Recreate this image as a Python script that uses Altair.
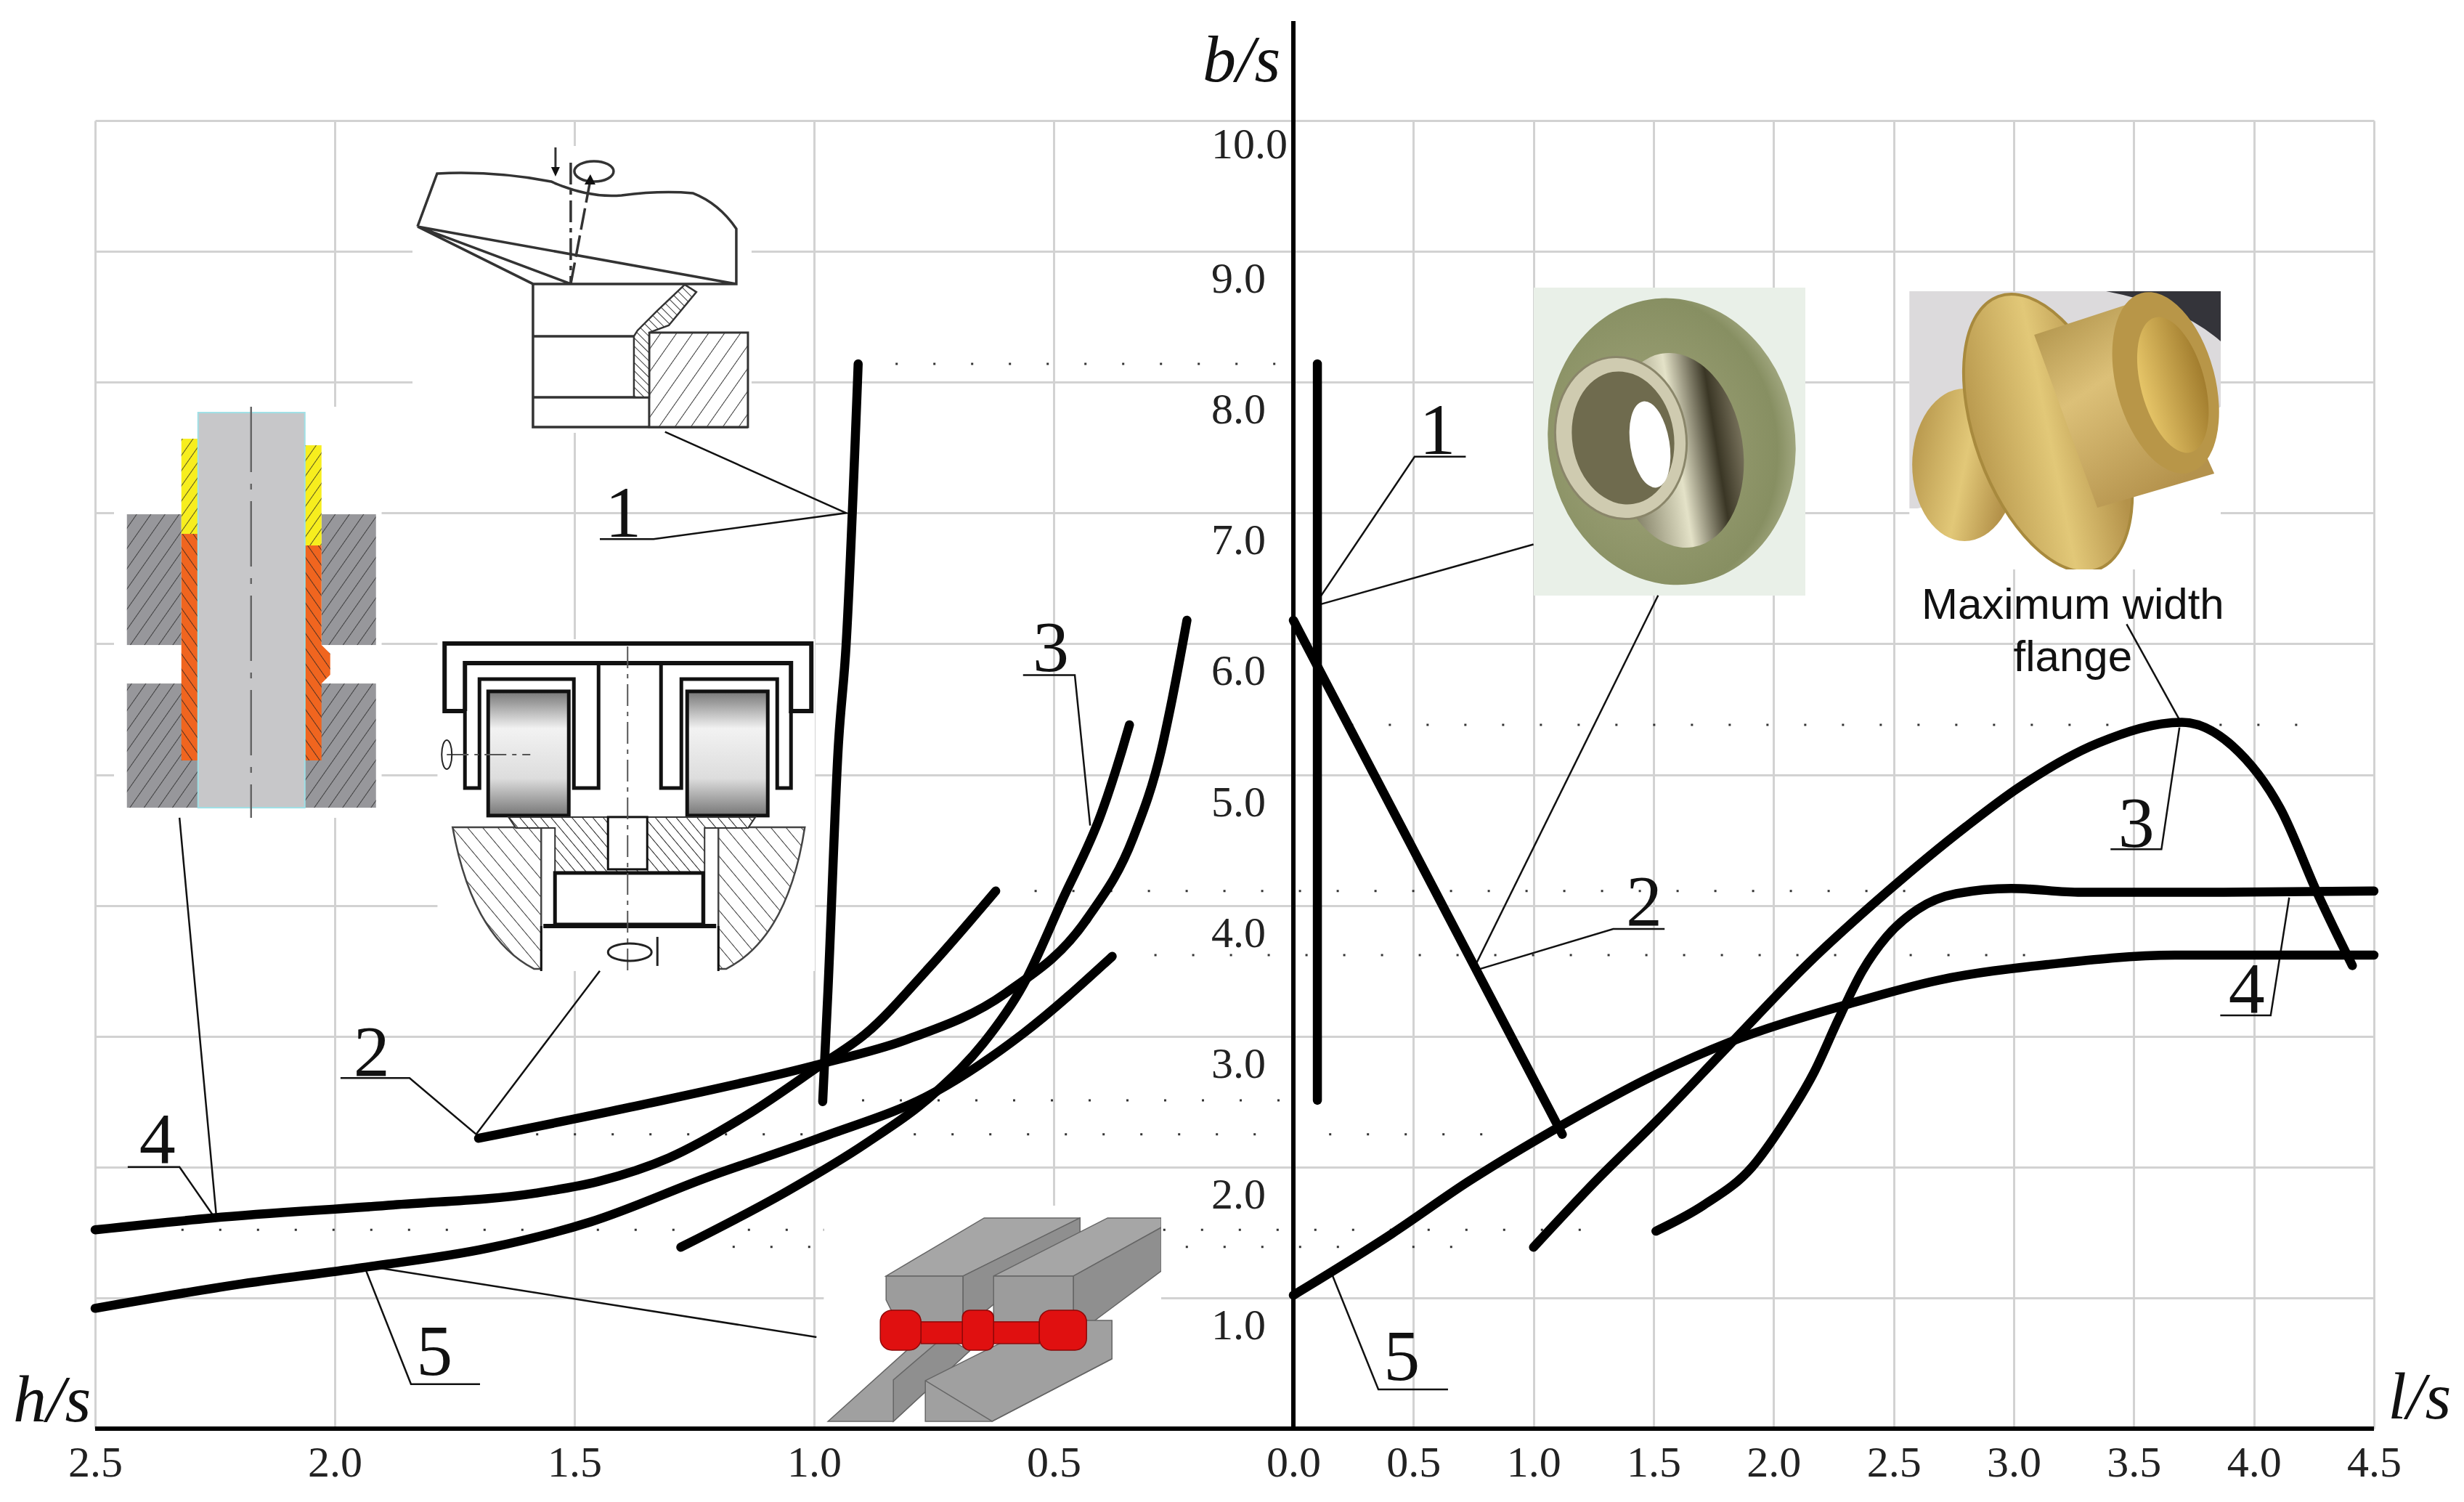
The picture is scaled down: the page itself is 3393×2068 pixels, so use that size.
import base64

import altair as alt
import pandas as pd

# curves, signed x: negative is the h/s side, positive the l/s side
CURVES = {
    "1L": ([-0.982, -0.971, -0.950, -0.933, -0.908], [2.50, 3.35, 5.18, 6.00, 8.14]),
    "2L": (
        [-1.70, -1.385, -0.99, -0.81, -0.60, -0.43, -0.334, -0.276, -0.256, -0.222],
        [2.22, 2.456, 2.785, 2.97, 3.33, 3.90, 4.52, 5.18, 5.52, 6.18],
    ),
    "3L": (
        [-1.278, -1.056, -0.892, -0.744, -0.646, -0.564, -0.481, -0.40, -0.358, -0.342],
        [1.387, 1.815, 2.18, 2.58, 2.95, 3.39, 4.05, 4.71, 5.18, 5.38],
    ),
    "4L": (
        [-2.5, -2.256, -1.878, -1.582, -1.45, -1.303, -1.139, -0.99, -0.892, -0.761, -0.621],
        [1.52, 1.61, 1.71, 1.80, 1.89, 2.07, 2.40, 2.77, 3.02, 3.52, 4.11],
    ),
    "5L": (
        [-2.5, -2.206, -1.944, -1.68, -1.467, -1.22, -0.99, -0.744, -0.564, -0.378],
        [0.92, 1.10, 1.23, 1.38, 1.58, 1.925, 2.22, 2.58, 3.02, 3.61],
    ),
    "1R": ([0.10, 0.10], [8.14, 2.51]),
    "2R": ([0.0, 1.12], [6.18, 2.25]),
    "3R": (
        [1.0, 1.257, 1.519, 1.814, 2.14, 2.47, 2.80, 3.02, 3.35, 3.70, 3.91, 4.11, 4.27, 4.41],
        [1.387, 1.889, 2.364, 2.93, 3.55, 4.10, 4.60, 4.90, 5.24, 5.40, 5.22, 4.74, 4.07, 3.54],
    ),
    "4R": (
        [1.51, 1.71, 1.91, 2.04, 2.17, 2.27, 2.37, 2.47, 2.60, 2.76, 2.99, 3.28, 3.84, 4.5],
        [1.51, 1.71, 2.00, 2.33, 2.73, 3.13, 3.50, 3.76, 3.97, 4.09, 4.13, 4.10, 4.10, 4.11],
    ),
    "5R": (
        [0.0, 0.41, 0.73, 1.09, 1.49, 1.81, 2.30, 2.69, 3.15, 3.67, 4.5],
        [1.02, 1.49, 1.89, 2.29, 2.69, 2.95, 3.24, 3.43, 3.55, 3.62, 3.62],
    ),
}

# dotted guide levels: y, x start, x end
DOT_Y = [8.14, 5.38, 4.11, 3.62, 2.51, 2.25, 1.52, 1.39]
DOT_X1 = [-0.83, 0.24, -0.54, -0.29, -0.90, -1.58, -2.32, -1.17]
DOT_X2 = [0.0, 4.31, 2.69, 3.15, 0.0, 0.90, 1.30, 0.80]

# thin leader lines beside the numbers
LEADERS = {
    "1La": ([-1.311, -0.933, -1.335, -1.447], [7.62, 7.0, 6.80, 6.80]),
    "1Ra": ([0.718, 0.505, 0.109], [7.43, 7.43, 6.35]),
    "1Rb": ([0.109, 1.0], [6.30, 6.76]),
    "2La": ([-1.988, -1.844, -1.705, -1.447], [2.68, 2.68, 2.25, 3.50]),
    "2Ra": ([1.546, 1.332, 0.769], [3.82, 3.82, 3.51]),
    "2Rb": ([0.76, 1.519], [3.55, 6.37]),
    "3La": ([-0.564, -0.456, -0.424], [5.76, 5.76, 4.61]),
    "3Ra": ([3.403, 3.615, 3.69], [4.43, 4.43, 5.36]),
    "3Rb": ([3.47, 3.69], [6.15, 5.42]),
    "4La": ([-2.432, -2.324, -2.252], [2.0, 2.0, 1.62]),
    "4Lb": ([-2.324, -2.247], [4.67, 1.62]),
    "4Ra": ([3.86, 4.07, 4.147], [3.16, 3.16, 4.06]),
    "5La": ([-1.697, -1.841, -1.935], [0.34, 0.34, 1.21]),
    "5Lb": ([-1.91, -0.995], [1.23, 0.70]),
    "5Ra": ([0.644, 0.354, 0.163], [0.30, 0.30, 1.17]),
}

NUM_TEXT = ["1", "1", "2", "2", "3", "3", "4", "4", "5", "5"]
NUM_X = [-1.398, 0.60, -1.923, 1.461, -0.506, 3.51, -2.37, 3.97, -1.792, 0.451]
NUM_Y = [6.82, 7.45, 2.70, 3.85, 5.79, 4.45, 2.03, 3.18, 0.41, 0.37]

X_TICKS = [-2.5, -2.0, -1.5, -1.0, -0.5, 0.0, 0.5, 1.0, 1.5, 2.0, 2.5, 3.0, 3.5, 4.0, 4.5]
Y_TICKS = [0, 1, 2, 3, 4, 5, 6, 7, 8, 9, 10]
Y_LABELS = ["1.0", "2.0", "3.0", "4.0", "5.0", "6.0", "7.0", "8.0", "9.0", "10.0"]
Y_LABEL_POS = [1, 2, 3, 4, 5, 6, 7, 8, 9, 10.03]

AXIS_TITLES = ["b/s", "h/s", "l/s"]
AXIS_TITLE_X = [-0.108, -2.59, 4.69]
AXIS_TITLE_Y = [10.30, 0.055, 0.08]

NOTE_TEXT = ["Maximum width", "flange"]
NOTE_X = [3.246, 3.246]
NOTE_Y = [6.19, 5.79]

SERIF = "Liberation Serif"
HATCH = (
    '<pattern id="{id}" width="{s}" height="{s}" patternUnits="userSpaceOnUse" '
    'patternTransform="rotate({a})"><rect width="{s}" height="{s}" fill="{bg}"/>'
    '<line x1="0" y1="0" x2="0" y2="{s}" stroke="#222" stroke-width="{w}"/></pattern>'
)

# the pictures set into the chart, drawn in reference pixels through their viewBox
SVG_TOOL = (
    '<defs>' + HATCH.format(id="a", s=18, a=35, bg="#fff", w=1.8) + HATCH.format(id="b", s=8, a=-45, bg="#fff", w=1.8) + '</defs>'
    '<rect x="568" y="201" width="467" height="395" fill="#fff"/>'
    '<g fill="none" stroke="#333" stroke-width="3.5">'
    '<path d="M575 312L602 239Q680 235 759 250Q810 273 856 269Q910 262 954 266Q990 280 1014 315V391H734L575 312L786 391M575 312L1014 391"/>'
    '<path d="M734 391V588H1030"/><path d="M734 463H873M734 547H894"/>'
    '<path d="M786 224V391" stroke-dasharray="30 8 6 8"/><path d="M786 391L813 248" stroke-dasharray="30 8"/>'
    '<path d="M765 203V238" stroke-width="3"/><ellipse cx="818" cy="236" rx="27" ry="14"/></g>'
    '<rect x="894" y="458" width="136" height="130" fill="url(#a)" stroke="#333" stroke-width="3"/>'
    '<path d="M873 463V547H894V458L921 448L959 402L943 392L905 428L878 455Z" fill="url(#b)" stroke="#333" stroke-width="2.5"/>'
    '<path d="M765 243L759 230H771ZM813 240L805 254H820Z" fill="#111"/>'
)
SVG_SLEEVE = (
    '<defs>' + HATCH.format(id="g", s=16, a=35, bg="#97979b", w=1.5) + HATCH.format(id="o", s=12, a=-35, bg="#f0651f", w=1.5)
    + HATCH.format(id="y", s=12, a=35, bg="#f7ee1e", w=1.5) + '</defs>'
    '<rect x="157" y="560" width="369" height="566" fill="#fff"/>'
    '<g fill="url(#g)"><rect x="175" y="708" width="75" height="180"/><rect x="443" y="708" width="75" height="180"/>'
    '<rect x="175" y="941" width="98" height="171"/><rect x="420" y="941" width="98" height="171"/></g>'
    '<rect x="250" y="604" width="23" height="131" fill="url(#y)"/><rect x="420" y="613" width="23" height="138" fill="url(#y)"/>'
    '<rect x="250" y="735" width="23" height="312" fill="url(#o)"/>'
    '<path d="M420 751H443V888L455 900V929L443 941V1047H420Z" fill="url(#o)"/>'
    '<rect x="273" y="568" width="147" height="544" fill="#c7c7c9" stroke="#9fe0e6" stroke-width="2"/>'
    '<path d="M346 560V1126" stroke="#666" stroke-width="2.5" stroke-dasharray="90 16 8 16"/>'
)
SVG_ROLLER = (
    '<defs><linearGradient id="r" x1="0" y1="0" x2="0" y2="1"><stop offset="0" stop-color="#777"/>'
    '<stop offset="0.3" stop-color="#f2f2f2"/><stop offset="0.7" stop-color="#ddd"/><stop offset="1" stop-color="#777"/></linearGradient>'
    + HATCH.format(id="d", s=16, a=-40, bg="#fff", w=1.8) + HATCH.format(id="c", s=11, a=-40, bg="#fff", w=2) + '</defs>'
    '<rect x="602" y="880" width="520" height="457" fill="#fff"/>'
    '<g fill="none" stroke="#111" stroke-width="6">'
    '<path d="M640 979H612V886H1117V979H1089V913H640V979"/><path d="M824 913V1085H790V935H660V1085H640V979M910 913V1085H938V935H1070V1085H1089V979" stroke-width="5"/></g>'
    '<rect x="672" y="952" width="111" height="171" fill="url(#r)" stroke="#111" stroke-width="5"/>'
    '<rect x="946" y="952" width="111" height="171" fill="url(#r)" stroke="#111" stroke-width="5"/>'
    '<path d="M623 1139H745V1334H735Q650 1290 623 1139Z" fill="url(#d)" stroke="#444" stroke-width="2.5"/>'
    '<path d="M1108 1139H989V1334H1000Q1085 1290 1108 1139Z" fill="url(#d)" stroke="#444" stroke-width="2.5"/>'
    '<path d="M700 1125H1040L1030 1140H970V1275H764V1140H710Z" fill="url(#c)" stroke="#333" stroke-width="2"/>'
    '<rect x="837" y="1125" width="54" height="72" fill="#fff" stroke="#111" stroke-width="3"/>'
    '<rect x="764" y="1202" width="204" height="71" fill="#fff" stroke="#111" stroke-width="5"/>'
    '<path d="M748 1275H986" stroke="#111" stroke-width="6"/><path d="M745 1275V1337M989 1275V1337" stroke="#111" stroke-width="3"/>'
    '<path d="M864 890V1337" stroke="#555" stroke-width="2" stroke-dasharray="30 8 6 8"/>'
    '<path d="M615 1039H730" stroke="#555" stroke-width="2" stroke-dasharray="30 8 6 8"/>'
    '<ellipse cx="867" cy="1311" rx="30" ry="12" fill="none" stroke="#222" stroke-width="3"/><path d="M905 1290V1330" stroke="#222" stroke-width="3"/>'
    '<ellipse cx="615" cy="1039" rx="7" ry="20" fill="none" stroke="#222" stroke-width="2"/>'
)
SVG_PHOTO1 = (
    '<defs><radialGradient id="p" cx="0.4" cy="0.5" r="0.75"><stop offset="0" stop-color="#a3a67c"/><stop offset="0.7" stop-color="#878f62"/>'
    '<stop offset="1" stop-color="#d4d6b8"/></radialGradient>'
    '<linearGradient id="q" x1="0" y1="0" x2="1" y2="0"><stop offset="0" stop-color="#6c6a50"/><stop offset="0.5" stop-color="#e4e2c8"/>'
    '<stop offset="0.8" stop-color="#3a3625"/><stop offset="1" stop-color="#76705a"/></linearGradient></defs>'
    '<rect x="2112" y="396" width="374" height="424" fill="#e9f0e8"/>'
    '<ellipse cx="2302" cy="608" rx="170" ry="198" fill="url(#p)" transform="rotate(-9 2302 608)"/>'
    '<ellipse cx="2310" cy="620" rx="90" ry="135" fill="url(#q)" transform="rotate(-9 2310 620)"/>'
    '<ellipse cx="2232" cy="603" rx="90" ry="112" fill="#cfcbb0" stroke="#8a866a" stroke-width="3" transform="rotate(-9 2232 603)"/>'
    '<ellipse cx="2235" cy="603" rx="70" ry="92" fill="#6f6b4e" transform="rotate(-9 2235 603)"/>'
    '<ellipse cx="2272" cy="612" rx="27" ry="60" fill="#fff" transform="rotate(-9 2272 612)"/>'
)
SVG_PHOTO2 = (
    '<defs><linearGradient id="s" x1="0" y1="0" x2="0.6" y2="1"><stop offset="0" stop-color="#a98c44"/><stop offset="0.45" stop-color="#dcc078"/>'
    '<stop offset="1" stop-color="#b4924c"/></linearGradient>'
    '<linearGradient id="t" x1="0" y1="0" x2="1" y2="0"><stop offset="0" stop-color="#e6c568"/><stop offset="1" stop-color="#a27d2e"/></linearGradient>'
    '<linearGradient id="u" x1="0" y1="0" x2="1" y2="0.3"><stop offset="0" stop-color="#b08f45"/><stop offset="0.6" stop-color="#e2c878"/><stop offset="1" stop-color="#b4924a"/></linearGradient></defs>'
    '<rect x="2629" y="401" width="429" height="383" fill="#fff"/>'
    '<path d="M2629 401H3058V560L2920 640L2640 700H2629Z" fill="#dcdadc"/>'
    '<path d="M2900 401H3058V470Q3000 420 2900 401Z" fill="#34343a"/>'
    '<ellipse cx="2705" cy="640" rx="72" ry="105" fill="url(#u)"/>'
    '<ellipse cx="2820" cy="596" rx="100" ry="200" fill="url(#u)" stroke="#a88a3e" stroke-width="4" transform="rotate(-20 2820 596)"/>'
    '<path d="M2801 461L2942 415L3049 652L2888 699Z" fill="url(#s)"/>'
    '<ellipse cx="2982" cy="527" rx="68" ry="128" fill="#b89648" transform="rotate(-15 2982 527)"/>'
    '<ellipse cx="2992" cy="530" rx="44" ry="96" fill="url(#t)" transform="rotate(-15 2992 530)"/>'
)
SVG_ROLLS = (
    '<rect x="1134" y="1660" width="465" height="307" fill="#fff"/>'
    '<g stroke="#666" stroke-width="1.5">'
    '<path d="M1220 1757L1355 1677H1487L1326 1757Z" fill="#a6a6a6"/><path d="M1220 1757H1326V1830H1240L1220 1790Z" fill="#9c9c9c"/><path d="M1326 1757L1487 1677V1700L1326 1830Z" fill="#8f8f8f"/>'
    '<path d="M1368 1757L1525 1677H1599V1690L1478 1757Z" fill="#a6a6a6"/><path d="M1368 1757H1478V1830H1368Z" fill="#9c9c9c"/><path d="M1478 1757L1599 1690V1750L1478 1840Z" fill="#8f8f8f"/>'
    '<path d="M1140 1957H1230L1335 1860L1270 1840Z" fill="#a0a0a0"/><path d="M1230 1957V1900L1300 1840L1335 1860Z" fill="#8f8f8f"/>'
    '<path d="M1274 1901L1440 1818H1531V1871L1366 1957H1274Z" fill="#a0a0a0"/><path d="M1274 1901L1366 1957L1531 1871" fill="none"/></g>'
    '<g fill="#e01010" stroke="#8c0808" stroke-width="1.5"><rect x="1268" y="1820" width="163" height="30"/>'
    '<rect x="1212" y="1804" width="56" height="55" rx="16"/><rect x="1325" y="1804" width="43" height="55" rx="10"/><rect x="1431" y="1804" width="65" height="55" rx="16"/></g>'
)

# picture, left edge, top edge (data units), width and height (px), viewBox origin
INSETS = [
    (SVG_TOOL, -1.838, 9.806, 467, 395, 568, 201),
    (SVG_SLEEVE, -2.461, 7.812, 369, 566, 157, 560),
    (SVG_ROLLER, -1.786, 6.036, 520, 457, 602, 880),
    (SVG_PHOTO1, 1.001, 8.723, 374, 424, 2112, 396),
    (SVG_PHOTO2, 2.565, 8.695, 429, 383, 2629, 401),
    (SVG_ROLLS, -0.980, 1.705, 465, 307, 1134, 1660),
]

# the h/s side is drawn twice as wide per unit as the l/s side
X = alt.X(
    "x:Q",
    title=None,
    scale=alt.Scale(domain=[-2.5, 0, 4.5], range=[0, 1650, 3138]),
    axis=alt.Axis(
        values=X_TICKS,
        labelExpr="format(abs(datum.value), '.1f')",
        labelFont=SERIF,
        labelFontSize=60,
        labelColor="#222222",
        labelPadding=18,
        labelOverlap=False,
        labelFlush=False,
        ticks=False,
        domain=False,
        grid=True,
        gridColor="#d2d2d2",
        gridWidth=3,
    ),
)
Y = alt.Y(
    "y:Q",
    title=None,
    scale=alt.Scale(domain=[0, 10]),
    axis=alt.Axis(
        values=Y_TICKS,
        labels=False,
        ticks=False,
        domain=False,
        grid=True,
        gridColor="#d2d2d2",
        gridWidth=3,
    ),
)


def lines_frame(series):
    rows = []
    for name, (xs, ys) in series.items():
        for i, (px, py) in enumerate(zip(xs, ys)):
            rows.append({"name": name, "i": i, "x": px, "y": py})
    return pd.DataFrame(rows)


def svg_uri(body, w, h, ox, oy):
    svg = f'<svg xmlns="http://www.w3.org/2000/svg" width="{w}" height="{h}" viewBox="{ox} {oy} {w} {h}">{body}</svg>'
    return "data:image/svg+xml;base64," + base64.b64encode(svg.encode()).decode()


dots = (
    alt.Chart(pd.DataFrame({"x": DOT_X1, "x2": DOT_X2, "y": DOT_Y}))
    .mark_rule(color="#333333", strokeWidth=3, strokeDash=[3, 49])
    .encode(x=X, x2="x2:Q", y=Y)
)

insets = []
for body, ix, iy, w, h, ox, oy in INSETS:
    insets.append(
        alt.Chart(pd.DataFrame({"x": [ix], "y": [iy], "url": [svg_uri(body, w, h, ox, oy)]}))
        .mark_image(width=w, height=h, align="left", baseline="top", aspect=False)
        .encode(x=X, y=Y, url="url:N")
    )

leaders = (
    alt.Chart(lines_frame(LEADERS))
    .mark_line(color="#111111", strokeWidth=2.5)
    .encode(x=X, y=Y, detail="name:N", order="i:Q")
)

curves = (
    alt.Chart(lines_frame(CURVES))
    .mark_line(color="#000000", strokeWidth=12.5, strokeCap="round", strokeJoin="round", interpolate="monotone")
    .encode(x=X, y=Y, detail="name:N", order="i:Q")
)

b_axis = (
    alt.Chart(pd.DataFrame({"x": [0.0], "y": [0.0], "y2": [10.76]}))
    .mark_rule(color="#000000", strokeWidth=6)
    .encode(x=X, y=Y, y2="y2:Q")
)
x_axis = (
    alt.Chart(pd.DataFrame({"x": [-2.5], "x2": [4.5], "y": [0.0]}))
    .mark_rule(color="#000000", strokeWidth=6)
    .encode(x=X, x2="x2:Q", y=Y)
)

numbers = (
    alt.Chart(pd.DataFrame({"x": NUM_X, "y": NUM_Y, "t": NUM_TEXT}))
    .mark_text(font=SERIF, fontSize=100, color="#111111", align="center", baseline="alphabetic")
    .encode(x=X, y=Y, text="t:N")
)

y_labels = (
    alt.Chart(pd.DataFrame({"x": [0.0] * len(Y_LABELS), "y": Y_LABEL_POS, "t": Y_LABELS}))
    .mark_text(font=SERIF, fontSize=60, color="#222222", align="left", baseline="middle", dx=-113, dy=39)
    .encode(x=X, y=Y, text="t:N")
)

axis_titles = (
    alt.Chart(pd.DataFrame({"x": AXIS_TITLE_X, "y": AXIS_TITLE_Y, "t": AXIS_TITLES}))
    .mark_text(font=SERIF, fontStyle="italic", fontSize=92, color="#111111", align="center", baseline="alphabetic")
    .encode(x=X, y=Y, text="t:N")
)

note = (
    alt.Chart(pd.DataFrame({"x": NOTE_X, "y": NOTE_Y, "t": NOTE_TEXT}))
    .mark_text(font="Liberation Sans", fontSize=60, color="#111111", align="center", baseline="alphabetic")
    .encode(x=X, y=Y, text="t:N")
)

chart = (
    alt.layer(dots, *insets, leaders, curves, b_axis, x_axis, numbers, y_labels, axis_titles, note)
    .properties(
        width=3138,
        height=1801,
        padding={"left": 123, "top": 158, "right": 110, "bottom": 80},
        autosize=alt.AutoSizeParams(type="none"),
        background="#ffffff",
    )
    .configure_view(strokeWidth=0)
)

chart.save("out.html", embed_options={"renderer": "svg", "actions": False})
